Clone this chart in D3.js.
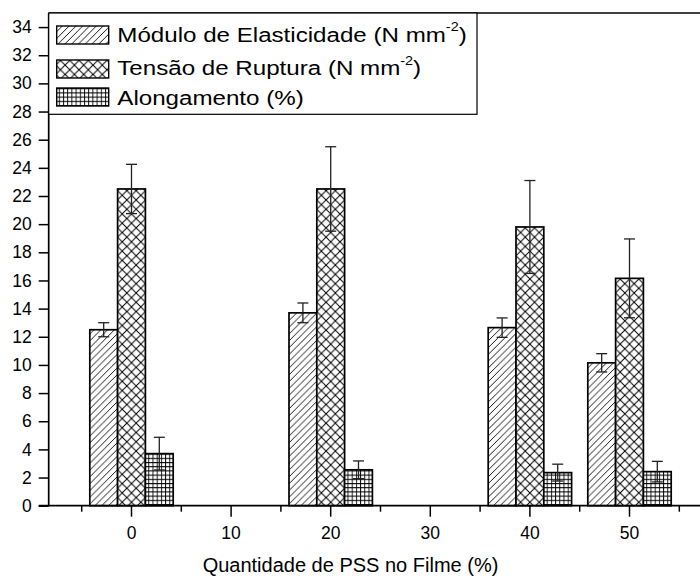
<!DOCTYPE html>
<html>
<head>
<meta charset="utf-8">
<script src="https://cdn.jsdelivr.net/npm/d3@7/dist/d3.min.js"></script>
<style>
  html, body { margin: 0; padding: 0; background: #fff; }
  svg { display: block; font-family: Arial, "Liberation Sans", sans-serif; }
</style>
</head>
<body>
<svg id="chart" width="700" height="582"></svg>
<script>
// Category axis (PSS content in the film, %)
const categories = ["0", "10", "20", "30", "40", "50"];
// Categories that have measured data
const groups = ["0", "20", "40", "50"];

// Mechanical properties per group, with standard deviations
const modulo = [12.5, 13.7, 12.65, 10.15];
const moduloErr = [0.5, 0.7, 0.69, 0.65];
const tensao = [22.5, 22.5, 19.8, 16.15];
const tensaoErr = [1.75, 3.0, 3.3, 2.8];
const alongamento = [3.7, 2.55, 2.35, 2.42];
const alongamentoErr = [1.16, 0.63, 0.6, 0.73];

const seriesKeys = ["modulo", "tensao", "alongamento"];
const seriesLabels = ["Módulo de Elasticidade (N mm", "Tensão de Ruptura (N mm", "Alongamento (%)"];
const seriesSup = ["-2", "-2", null];
const seriesPatterns = ["hatch", "cross", "grid"];

const yTicks = [0, 2, 4, 6, 8, 10, 12, 14, 16, 18, 20, 22, 24, 26, 28, 30, 32, 34];

const series = [
  { key: "modulo", values: modulo, errors: moduloErr },
  { key: "tensao", values: tensao, errors: tensaoErr },
  { key: "alongamento", values: alongamento, errors: alongamentoErr }
];

const svg = d3.select("#chart");
const plot = { left: 48.7, right: 700, top: 13, bottom: 505.7 };

// Fill patterns
const defs = svg.append("defs");
{
  const p = 6.8;
  const pat = defs.append("pattern").attr("id", "hatch")
    .attr("patternUnits", "userSpaceOnUse").attr("width", p).attr("height", p);
  pat.append("rect").attr("width", p).attr("height", p).attr("fill", "#fff");
  pat.append("path")
    .attr("d", `M0,${p} L${p},0 M${-p / 2},${p / 2} L${p / 2},${-p / 2} M${p / 2},${p * 1.5} L${p * 1.5},${p / 2}`)
    .attr("stroke", "#000").attr("stroke-width", 0.9);
}
{
  const p = 9.3;
  const pat = defs.append("pattern").attr("id", "cross")
    .attr("patternUnits", "userSpaceOnUse").attr("width", p).attr("height", p);
  pat.append("rect").attr("width", p).attr("height", p).attr("fill", "#fff");
  pat.append("path")
    .attr("d", `M0,0 L${p},${p} M0,${p} L${p},0`)
    .attr("stroke", "#000").attr("stroke-width", 1);
}
{
  const p = 4.2;
  const pat = defs.append("pattern").attr("id", "grid")
    .attr("patternUnits", "userSpaceOnUse").attr("width", p).attr("height", p);
  pat.append("rect").attr("width", p).attr("height", p).attr("fill", "#fff");
  pat.append("path")
    .attr("d", `M0.5,0 L0.5,${p} M0,0.5 L${p},0.5`)
    .attr("stroke", "#000").attr("stroke-width", 0.9);
}

// Scales
const x = d3.scaleBand().domain(categories).range([81.7, 679.3]).paddingInner(0).paddingOuter(0);
const xInner = d3.scaleBand().domain(seriesKeys).range([-41.7, 41.7]);
const y = d3.scaleLinear().domain([0, 35]).range([plot.bottom, plot.top]);

// Bars
const groupG = svg.append("g").selectAll("g")
  .data(groups)
  .join("g")
  .attr("transform", d => `translate(${x(d) + x.bandwidth() / 2},0)`);

groupG.each(function (g, gi) {
  const sel = d3.select(this);
  series.forEach((s, si) => {
    sel.append("rect")
      .attr("x", xInner(s.key))
      .attr("y", y(s.values[gi]))
      .attr("width", xInner.bandwidth())
      .attr("height", y(0) - y(s.values[gi]))
      .attr("fill", `url(#${seriesPatterns[si]})`)
      .attr("stroke", "#000")
      .attr("stroke-width", 1.7);
  });
  series.forEach((s) => {
    const cx = xInner(s.key) + xInner.bandwidth() / 2;
    const hi = y(s.values[gi] + s.errors[gi]);
    const lo = y(s.values[gi] - s.errors[gi]);
    const eg = sel.append("g").attr("stroke", "#222").attr("stroke-width", 1.3);
    eg.append("line").attr("x1", cx).attr("x2", cx).attr("y1", hi).attr("y2", lo);
    eg.append("line").attr("x1", cx - 5.5).attr("x2", cx + 5.5).attr("y1", hi).attr("y2", hi);
    eg.append("line").attr("x1", cx - 5.5).attr("x2", cx + 5.5).attr("y1", lo).attr("y2", lo);
  });
});

// Y axis
const yAxis = svg.append("g")
  .attr("transform", `translate(${plot.left},0)`)
  .call(d3.axisLeft(y).tickValues(yTicks).tickSize(10).tickPadding(7).tickFormat(d3.format("d")));
yAxis.select(".domain").remove();
yAxis.selectAll(".tick line").attr("stroke", "#000").attr("stroke-width", 1.5);
yAxis.selectAll(".tick text")
  .attr("fill", "#000").attr("font-size", 17.5).attr("font-family", "Arial, 'Liberation Sans', sans-serif");

// X axis (labels at band centres, minor ticks at band edges)
const xAxis = svg.append("g")
  .attr("transform", `translate(0,${plot.bottom})`)
  .call(d3.axisBottom(x).tickSize(11).tickPadding(10));
xAxis.select(".domain").remove();
xAxis.selectAll(".tick line").attr("stroke", "#000").attr("stroke-width", 1.5);
xAxis.selectAll(".tick text")
  .attr("fill", "#000").attr("font-size", 17.5).attr("font-family", "Arial, 'Liberation Sans', sans-serif");

const edges = categories.map(c => x(c)).concat([x.range()[1]]);
svg.append("g").selectAll("line").data(edges).join("line")
  .attr("x1", d => d).attr("x2", d => d)
  .attr("y1", plot.bottom).attr("y2", plot.bottom + 6)
  .attr("stroke", "#000").attr("stroke-width", 1.5);

// Frame lines: left, bottom, top
const frame = svg.append("g").attr("stroke", "#000").attr("stroke-width", 1.7).attr("fill", "none");
frame.append("line").attr("x1", plot.left).attr("x2", plot.left).attr("y1", plot.top).attr("y2", plot.bottom);
frame.append("line").attr("x1", plot.left - 10).attr("x2", plot.right).attr("y1", plot.bottom).attr("y2", plot.bottom);
frame.append("line").attr("x1", plot.left).attr("x2", plot.right).attr("y1", plot.top).attr("y2", plot.top);

// Axis title
svg.append("text")
  .attr("x", 350.5).attr("y", 571.5)
  .attr("text-anchor", "middle")
  .attr("font-size", 20)
  .attr("fill", "#000")
  .text("Quantidade de PSS no Filme (%)");

// Legend
const legend = svg.append("g");
legend.append("rect")
  .attr("x", plot.left).attr("y", plot.top)
  .attr("width", 477 - plot.left).attr("height", 114.3 - plot.top)
  .attr("fill", "#fff").attr("stroke", "#000").attr("stroke-width", 1.2);

const rowTop = [26, 60, 88];
const rowBase = [41.8, 75, 105];
seriesKeys.forEach((k, i) => {
  legend.append("rect")
    .attr("x", 56.7).attr("y", rowTop[i])
    .attr("width", 52).attr("height", 18)
    .attr("fill", `url(#${seriesPatterns[i]})`)
    .attr("stroke", "#000").attr("stroke-width", 1.4);
  const t = legend.append("text")
    .attr("transform", `translate(117.3,${rowBase[i]}) scale(1.15,1)`)
    .attr("font-size", 21)
    .attr("fill", "#000");
  t.append("tspan").text(seriesLabels[i]);
  if (seriesSup[i]) {
    t.append("tspan").attr("font-size", 12.5).attr("dy", -10.5).text(seriesSup[i]);
    t.append("tspan").attr("dy", 10.5).text(")");
  }
});
</script>
</body>
</html>
